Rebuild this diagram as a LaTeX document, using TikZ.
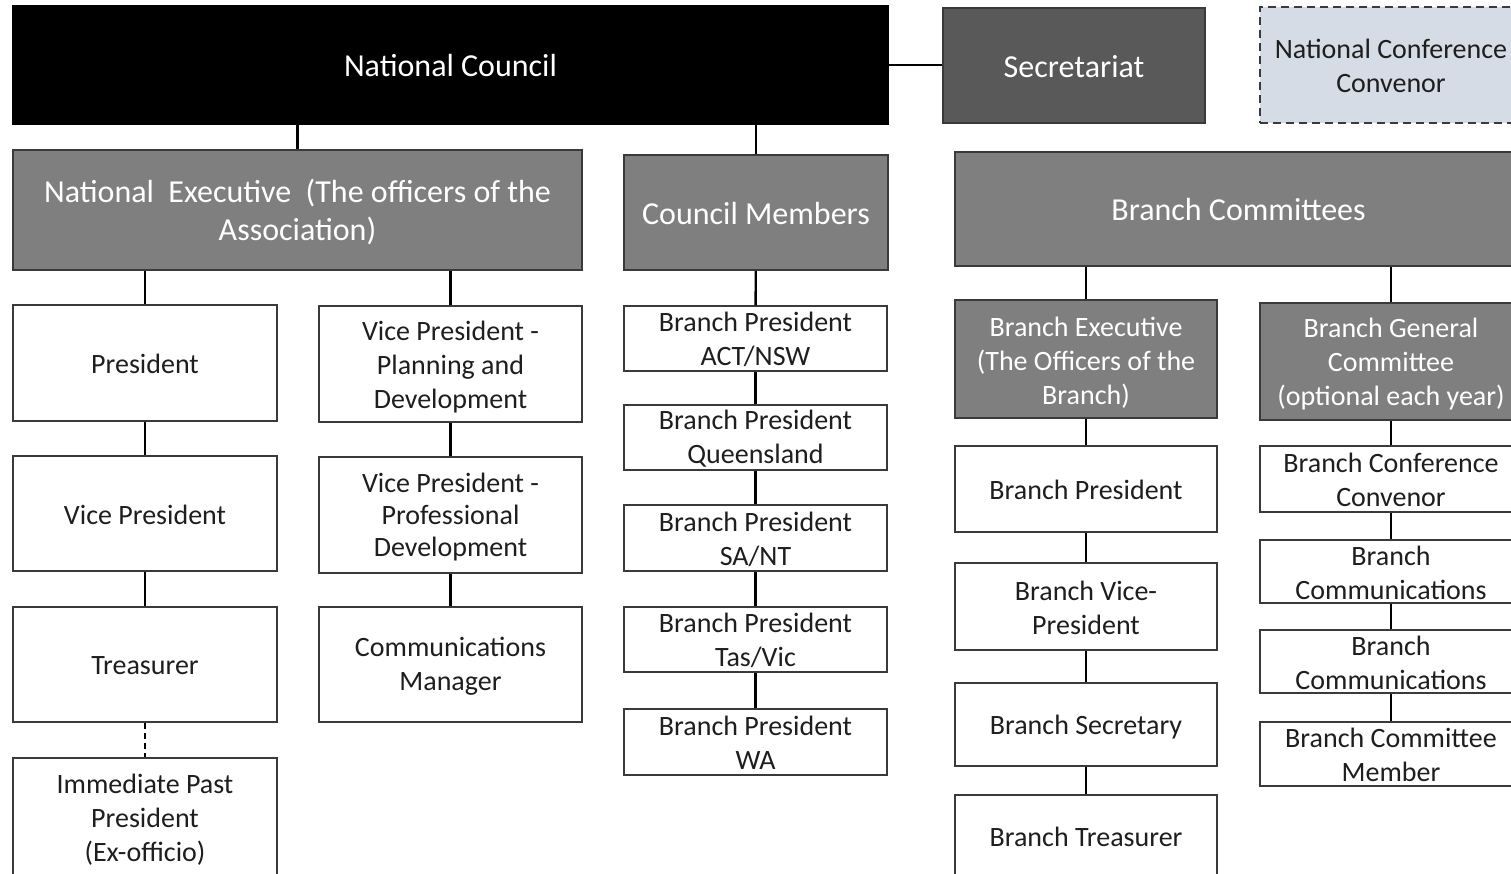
\documentclass[tikz,border=0pt]{standalone}
\usepackage{fontspec}
\setmainfont{Carlito}
\definecolor{hdrgray}{HTML}{7F7F7F}
\definecolor{secgray}{HTML}{595959}
\definecolor{convfill}{HTML}{D6DCE5}
\definecolor{edgegray}{HTML}{3A3A3A}
\definecolor{inktext}{HTML}{1E1E1E}
\tikzset{
  base/.style={rectangle, draw=edgegray, line width=1.5pt, inner sep=0pt},
  plain/.style={base, fill=white},
  plaintight/.style={plain},
  grey/.style={base, fill=hdrgray},
  greybig/.style={base, fill=hdrgray},
  council/.style={base, fill=black, draw=black},
  secretariat/.style={base, fill=secgray},
  convenor/.style={base, fill=convfill, dash pattern=on 8pt off 5pt},
  % text styles
  plaintxt/.style={align=center, inner sep=0pt, text=inktext, font=\fontsize{28}{34}\selectfont},
  plaintighttxt/.style={plaintxt, font=\fontsize{28}{32}\selectfont},
  greytxt/.style={align=center, inner sep=0pt, text=white, font=\fontsize{28}{34}\selectfont},
  greybigtxt/.style={align=center, inner sep=0pt, text=white, font=\fontsize{32}{38}\selectfont},
  counciltxt/.style={greybigtxt},
  secretariattxt/.style={greybigtxt},
  convenortxt/.style={plaintxt},
  link/.style={draw=black, line width=2.4pt},
  linkdash/.style={link, dash pattern=on 6pt off 4pt}
}
% box from its top-left and bottom-right corners; optional argument lowers the text
\newcommand\orgbox[8][1]{%
  \node[#3, minimum width={#6-#4}, minimum height={#7-#5}] (#2) at ({(#4+#6)/2},{(#5+#7)/2}) {};
  \node[#3txt] at ({(#4+#6)/2},{(#5+#7)/2+#1}) {#8};}
\begin{document}
\begin{tikzpicture}[x=1pt,y=-1pt]
\useasboundingbox (0,0) rectangle (1511,873);
\clip (0,0) rectangle (1511,873);

% top row
\orgbox{NC}{council}{13}{6}{888}{124}{National Council}
\orgbox{Sec}{secretariat}{943}{8}{1205}{123}{Secretariat}
\orgbox{Conv}{convenor}{1260}{7}{1522}{123}{National Conference\\Convenor}

% second row
\orgbox[2]{NE}{greybig}{13}{150}{582}{270}{National~ Executive~ (The officers of the\\Association)}
\orgbox{CM}{greybig}{624}{155}{888}{270}{Council Members}
\orgbox{BC}{greybig}{955}{152}{1522}{266}{Branch Committees}

% national officers
\orgbox{Pres}{plain}{13}{305}{277}{421}{President}
\orgbox{VP}{plain}{13}{456}{277}{571}{Vice President}
\orgbox{Treas}{plain}{13}{607}{277}{722}{Treasurer}
\orgbox[2]{IPP}{plain}{13}{758}{277}{878}{Immediate Past\\President\\(Ex-officio)}
\orgbox[3]{VPPD}{plain}{319}{306}{582}{422}{Vice President -\\Planning and\\Development}
\orgbox[2]{VPPro}{plaintight}{319}{457}{582}{573}{Vice President -\\Professional\\Development}
\orgbox[2]{CommM}{plain}{319}{607}{582}{722}{Communications\\Manager}

% council members
\orgbox{BPact}{plain}{624}{306}{887}{371}{Branch President\\ACT/NSW}
\orgbox{BPqld}{plain}{624}{405}{887}{470}{Branch President\\Queensland}
\orgbox{BPsa}{plain}{624}{505}{887}{571}{Branch President\\SA/NT}
\orgbox{BPtas}{plain}{624}{607}{887}{672}{Branch President\\Tas/Vic}
\orgbox{BPwa}{plain}{624}{709}{887}{775}{Branch President\\WA}

% branch executive
\orgbox[4]{BE}{grey}{955}{300}{1217}{418}{Branch Executive\\(The Officers of the\\Branch)}
\orgbox{BPr}{plain}{955}{446}{1217}{532}{Branch President}
\orgbox{BVP}{plain}{955}{563}{1217}{650}{Branch Vice-\\President}
\orgbox[3]{BSec}{plain}{955}{683}{1217}{766}{Branch Secretary}
\orgbox{BTr}{plain}{955}{795}{1217}{876}{Branch Treasurer}

% branch general committee
\orgbox[3]{BGC}{grey}{1260}{303}{1522}{420}{Branch General\\Committee\\(optional each year)}
\orgbox{BCC}{plain}{1260}{446}{1522}{512}{Branch Conference\\Convenor}
\orgbox{BCom1}{plain}{1260}{540}{1522}{603}{Branch\\Communications}
\orgbox{BCom2}{plain}{1260}{630}{1522}{693}{Branch\\Communications}
\orgbox{BCM}{plain}{1260}{722}{1522}{786}{Branch Committee\\Member}

% connectors
\draw[link] (NC.east) -- (NC.east -| Sec.west);
\draw[link] (NE.north) -- (NE.north |- NC.south);
\draw[link] (CM.north) -- (CM.north |- NC.south);

\draw[link] (Pres.north) -- (Pres.north |- NE.south);
\draw[link] (VPPD.north) -- (VPPD.north |- NE.south);
\draw[link] (Pres) -- (VP);
\draw[link] (VP) -- (Treas);
\draw[linkdash] (Treas.south) -- (IPP.north);
\draw[link] (VPPD) -- (VPPro);
\draw[link] (VPPro) -- (CommM);

\draw[link] (CM) -- (BPact);
\draw[link] (BPact) -- (BPqld);
\draw[link] (BPqld) -- (BPsa);
\draw[link] (BPsa) -- (BPtas);
\draw[link] (BPtas) -- (BPwa);

\draw[link] (BE.north) -- (BE.north |- BC.south);
\draw[link] (BGC.north) -- (BGC.north |- BC.south);
\draw[link] (BE) -- (BPr);
\draw[link] (BPr) -- (BVP);
\draw[link] (BVP) -- (BSec);
\draw[link] (BSec) -- (BTr);
\draw[link] (BGC) -- (BCC);
\draw[link] (BCC) -- (BCom1);
\draw[link] (BCom1) -- (BCom2);
\draw[link] (BCom2) -- (BCM);
\end{tikzpicture}
\end{document}
